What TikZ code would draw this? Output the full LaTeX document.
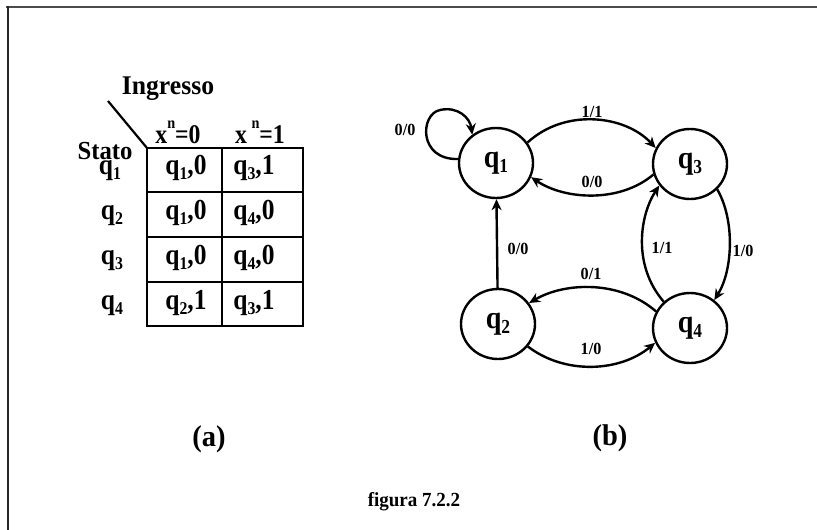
\documentclass[tikz,border=0pt]{standalone}
\usepackage{fontspec}
\usepackage{graphicx}
\setmainfont{Liberation Serif}
\newfontfamily\cf{Liberation Serif}[FakeStretch=0.88]
\newfontfamily\cg{Liberation Serif}[FakeStretch=0.95]
\usetikzlibrary{shapes.geometric,arrows.meta}
\newcommand\qq[1]{q\raisebox{-0.38ex}{\scalebox{0.62}{#1}}}
\begin{document}
\begin{tikzpicture}[x=1pt,y=-1pt,
  st/.style={draw,ellipse,minimum width=74,minimum height=70,line width=2.4,inner sep=0,
    font=\cf\bfseries\fontsize{32}{32}\selectfont},
  ar/.style={line width=2.4,-{Stealth[length=11,width=10,inset=3.5]}},
  lbl/.style={font=\cg\bfseries\fontsize{17}{17}\selectfont,inner sep=0},
  tt/.style={font=\cf\bfseries\fontsize{29}{29}\selectfont,inner sep=0,anchor=base},
  big/.style={font=\cg\bfseries\fontsize{27}{27}\selectfont,inner sep=0,anchor=base},
  captxt/.style={font=\cg\bfseries\fontsize{30}{30}\selectfont,inner sep=0,anchor=base},
  tline/.style={line width=2.6}]
\useasboundingbox (0,0) rectangle (817,530);
% frame
\draw[line width=2,gray!60!black] (6,7) -- (817,7);
\draw[line width=2,black!85] (8,6) -- (8,530);
% table
\draw[tline] (147,148) rectangle (303,326);
\draw[tline] (147,192) -- (303,192) (147,237) -- (303,237) (147,282) -- (303,282);
\draw[tline] (222,148) -- (222,326);
\coordinate (dA) at (108,101);
\coordinate (dB) at (147,148);
\draw[line width=2.2] (dA) -- (dB);
\node[big] (ing) at (168,94) {Ingresso};
\node[big,font=\cg\bfseries\fontsize{26}{26}\selectfont] (sta) at (105,159) {Stato};
\node[tt,font=\cf\bfseries\fontsize{27}{27}\selectfont] (h0) at (178,143) {x\raisebox{1.2ex}{\scalebox{0.6}{n}}=0};
\node[tt,font=\cf\bfseries\fontsize{27}{27}\selectfont] (h1) at (260,143) {x\,\raisebox{1.2ex}{\scalebox{0.6}{n}}=1};
\node[tt] (r1) at (110,174) {\qq1};
\node[tt] (r2) at (112,219) {\qq2};
\node[tt] (r3) at (112,264) {\qq3};
\node[tt] (r4) at (112,309) {\qq4};
\node[tt] (c11) at (186,174) {\qq1,0};
\node[tt] (c12) at (254,174) {\qq3,1};
\node[tt] (c21) at (186,219) {\qq1,0};
\node[tt] (c22) at (254,219) {\qq4,0};
\node[tt] (c31) at (186,264) {\qq1,0};
\node[tt] (c32) at (254,264) {\qq4,0};
\node[tt] (c41) at (186,309) {\qq2,1};
\node[tt] (c42) at (254,309) {\qq3,1};
% state diagram
\node[st] (q1) at (496,163) {\qq1};
\node[st] (q3) at (690,164) {\qq3};
\node[st] (q2) at (498,324) {\qq2};
\node[st] (q4) at (690,328) {\qq4};
\draw[ar] (q1.174) .. controls (418,160) and (420,114) .. (440,110) .. controls (458,106) and (470,118) .. (q1.130);
\node[lbl] (l0) at (405,130) {0/0};
\draw[ar] (q1.33) .. controls (565,108) and (625,115) .. (q3.155);
\node[lbl] (l1) at (592,112) {1/1};
\draw[ar] (q3.196) .. controls (620,203) and (565,200) .. (q1.338);
\node[lbl] (l2) at (592,182) {0/0};
\draw[ar] (q2) -- (q1);
\node[lbl] (l3) at (518,249) {0/0};
\draw[ar] (q4.154) .. controls (620,280) and (565,282) .. (q2.34);
\node[lbl] (l4) at (591,274) {0/1};
\draw[ar] (q2.323) .. controls (565,375) and (620,372) .. (q4.203);
\node[lbl] (l5) at (591,349) {1/0};
\draw[ar] (q4.135) .. controls (632,265) and (640,215) .. (q3.215);
\node[lbl] (l6) at (662,248) {1/1};
\draw[ar] (q3.317) .. controls (735,220) and (733,270) .. (q4.49);
\node[lbl] (l7) at (743,251) {1/0};
% captions
\node[captxt] (ca) at (209,446) {(a)};
\node[captxt] (cb) at (610,445) {(b)};
\node[font=\cg\bfseries\fontsize{20}{20}\selectfont,inner sep=0,anchor=base] (fig) at (414,506) {figura 7.2.2};
\end{tikzpicture}
\end{document}
